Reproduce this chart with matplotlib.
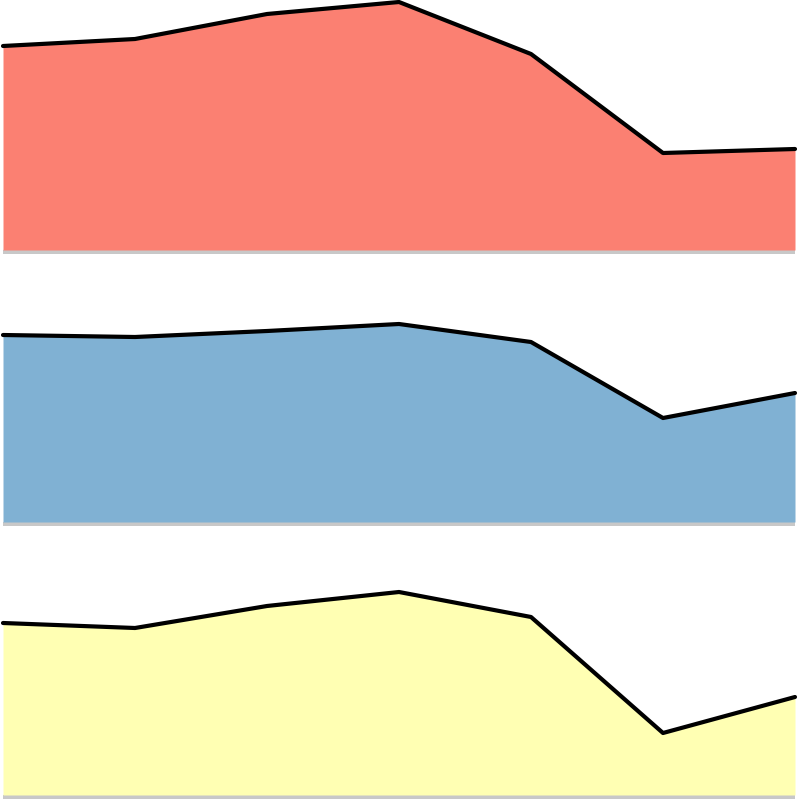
import matplotlib
matplotlib.use('Agg')
import matplotlib.pyplot as plt
import numpy as np

# Seven sample points shared by the three panels.
steps = [0, 1, 2, 3, 4, 5, 6]

# Series values (same vertical scale in every panel).
red_values = [204, 211, 236, 248, 196, 97, 101]
blue_values = [187, 185, 191, 198, 180, 104, 129]
yellow_values = [172, 167, 189, 203, 178, 62, 98]

series = [red_values, blue_values, yellow_values]
fill_colors = ['#fb8072', '#80b1d3', '#ffffb3']


def main():
    W, H = 802, 800
    fig = plt.figure(figsize=(W / 100, H / 100), dpi=100)

    # Pixel boxes (left, top-from-top, right, bottom-from-top) for each panel.
    boxes = [(3, 0, 795, 254), (3, 272, 795, 526), (3, 545, 795, 799)]

    for vals, col, (l, t, r, b) in zip(series, fill_colors, boxes):
        ax = fig.add_axes([l / W, 1 - b / H, (r - l) / W, (b - t) / H])
        # Grey baseline under the filled area.
        ax.axhline(-2.2, color='#c8c8c8', lw=3.0, zorder=1)
        ax.fill_between(steps, 0, vals, color=col, lw=0, zorder=2)
        ax.plot(steps, vals, color='black', lw=3.0, solid_capstyle='round',
                solid_joinstyle='round', clip_on=False, zorder=3)
        ax.set_xlim(0, 6)
        ax.set_ylim(-4, 250)
        ax.axis('off')

    fig.savefig('out.png', dpi=100)


if __name__ == '__main__':
    main()
